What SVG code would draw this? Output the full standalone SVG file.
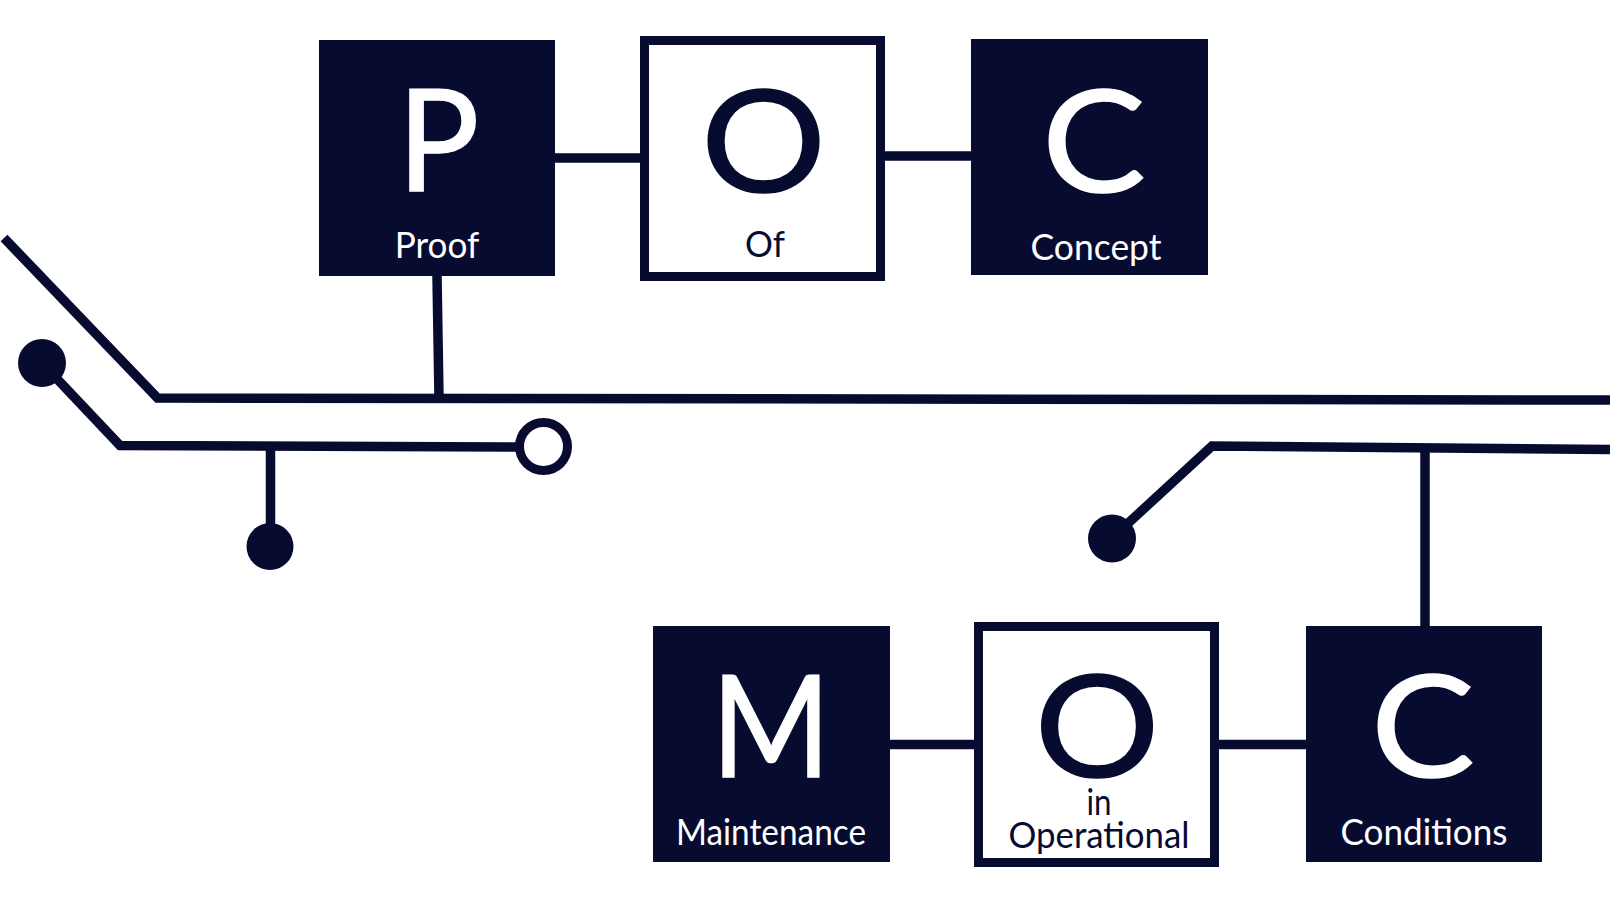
<svg xmlns="http://www.w3.org/2000/svg" width="1616" height="904" viewBox="0 0 1616 904">
<style>
.dark{fill:#070b30}
.open{fill:#fff;stroke:#070b30;stroke-width:9}
.wire{fill:none;stroke:#070b30;stroke-width:9.500;stroke-linejoin:miter}
.big{font-family:Lato,"Open Sans",sans-serif;font-size:142px;text-anchor:middle;stroke-width:1.500}
.small{font-family:Lato,"Open Sans",sans-serif;font-size:37px;text-anchor:middle}
.w{fill:#fff}
.d{fill:#070b30}
.big.w{stroke:#fff}
.big.d{stroke:#070b30}
</style>
<rect width="1616" height="904" fill="#fff"/>
<g id="connectors">
<path class="wire" d="M555 158H640M885 156H971"/>
<path class="wire" d="M890 744.500H974M1219 744.500H1306"/>
<path class="wire" d="M4 238L157.500 398L1610 400"/>
<path class="wire" d="M437 276L439 398"/>
<path class="wire" d="M42 363L120 445.500L520 447"/>
<path class="wire" d="M270.500 446V530"/>
<path class="wire" d="M1112 538L1212 446L1610 449.500"/>
<path class="wire" d="M1425 449V626"/>
</g>
<g id="node-dot-a"><circle class="dark" cx="42" cy="363" r="24"/></g>
<g id="node-dot-b"><circle class="dark" cx="270" cy="546.500" r="23.500"/></g>
<g id="node-dot-c"><circle class="dark" cx="1112" cy="538.500" r="24"/></g>
<g id="node-ring"><circle class="open" cx="543.500" cy="446.500" r="24"/></g>
<g id="node-p"><rect class="dark" x="319" y="40" width="236" height="236"/><text class="big w" transform="translate(438.500 191) scale(0.96 1)">P</text><text class="small w" x="437" y="258" textLength="84.500" lengthAdjust="spacingAndGlyphs">Proof</text></g>
<g id="node-of"><rect class="open" x="644.500" y="40.500" width="236" height="236"/><text class="big d" transform="translate(763.500 192) scale(1.1 1)">O</text><text class="small d" x="765" y="257" textLength="40" lengthAdjust="spacingAndGlyphs">Of</text></g>
<g id="node-c1"><rect class="dark" x="971" y="39" width="237" height="236"/><text class="big w" transform="translate(1094 192) scale(1.095 1)">C</text><text class="small w" x="1096" y="260" textLength="131" lengthAdjust="spacingAndGlyphs">Concept</text></g>
<g id="node-m"><rect class="dark" x="653" y="626" width="237" height="236"/><text class="big w" transform="translate(771 777) scale(0.905 1)">M</text><text class="small w" x="771" y="845" textLength="190" lengthAdjust="spacingAndGlyphs">Maintenance</text></g>
<g id="node-in"><rect class="open" x="978.500" y="626.500" width="236" height="236"/><text class="big d" transform="translate(1097 777) scale(1.1 1)">O</text><text class="small d" x="1099" y="815" textLength="25" lengthAdjust="spacingAndGlyphs">in</text><text class="small d" x="1099" y="848" textLength="181" lengthAdjust="spacingAndGlyphs">Operational</text></g>
<g id="node-c2"><rect class="dark" x="1306" y="626" width="236" height="236"/><text class="big w" transform="translate(1423 777) scale(1.095 1)">C</text><text class="small w" x="1424" y="845" textLength="167" lengthAdjust="spacingAndGlyphs">Conditions</text></g>
</svg>
